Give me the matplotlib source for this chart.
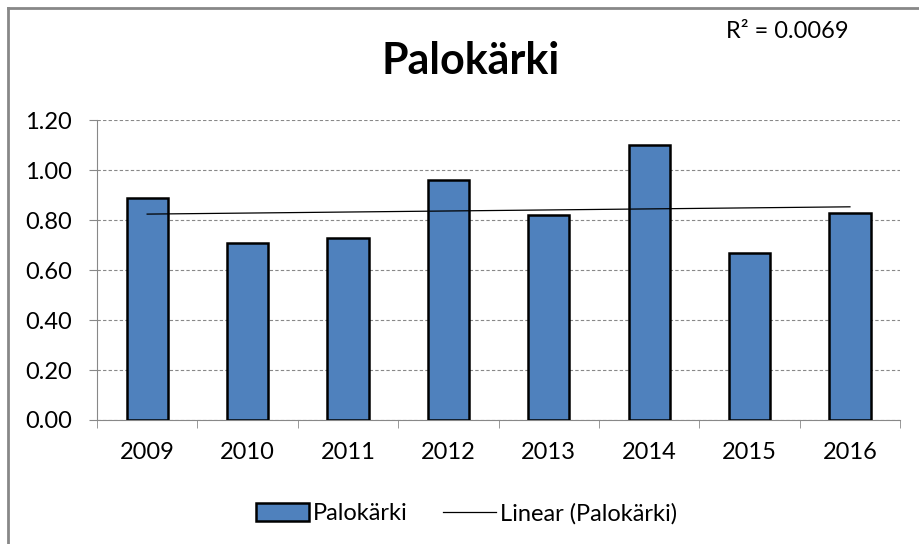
import numpy as np
import matplotlib.pyplot as plt
from matplotlib.lines import Line2D

plt.rcParams['font.family'] = ['Lato', 'DejaVu Sans']

years = ['2009', '2010', '2011', '2012', '2013', '2014', '2015', '2016']
values = [0.89, 0.71, 0.73, 0.96, 0.82, 1.10, 0.67, 0.83]
r2_label = 'R² = 0.0069'

fig = plt.figure(figsize=(9.19, 5.44), dpi=100)
ax = fig.add_axes([0.1055, 0.228, 0.874, 0.551])

x = np.arange(len(years))
bars = ax.bar(x, values, width=0.41, color='#4f81bd', edgecolor='black', linewidth=1.8,
              zorder=3)

# linear trend
k, b = np.polyfit(x, values, 1)
trend, = ax.plot(x, k * x + b, color='black', linewidth=0.9, zorder=4)

ax.set_xlim(-0.5, len(years) - 0.5)
ax.set_ylim(0, 1.2)
ax.set_yticks(np.arange(0, 1.21, 0.2))
ax.set_yticklabels(['%.2f' % v for v in np.arange(0, 1.21, 0.2)], fontsize=17)
ax.set_xticks(x)
ax.set_xticklabels(years, fontsize=17)
ax.set_xticks(np.arange(-0.5, len(years)), minor=True)
ax.tick_params(axis='x', which='major', length=0, pad=16)
ax.tick_params(axis='x', which='minor', length=6, color='#888888', direction='out')
ax.tick_params(axis='y', length=6, color='#888888', direction='out', pad=12)
ax.yaxis.grid(True, linestyle=(0, (3, 2)), color='#888888', linewidth=0.8, zorder=0)

for s in ['top', 'right']:
    ax.spines[s].set_visible(False)
ax.spines['left'].set_color('#888888')
ax.spines['bottom'].set_color('#888888')

fig.text(0.512, 0.887, 'Palokärki', ha='center', va='center', fontsize=31, fontweight='bold')
fig.text(0.79, 0.943, r2_label, ha='left', va='center', fontsize=17)

ax.legend([bars, trend], ['Palokärki', 'Linear (Palokärki)'],
          loc='upper center', bbox_to_anchor=(0.46, -0.205), ncol=2, frameon=False,
          fontsize=17, handlelength=2.25, handleheight=0.8, columnspacing=1.5,
          handletextpad=0.15)

# chart border (partial, cropped screenshot)
fig.add_artist(Line2D([8 / 919, 8 / 919], [0, 1 - 8 / 544], color='#888888', linewidth=2,
                      transform=fig.transFigure))
fig.add_artist(Line2D([8 / 919, 1], [1 - 8 / 544, 1 - 8 / 544], color='#888888', linewidth=2,
                      transform=fig.transFigure))

fig.savefig('out.png', dpi=100)
